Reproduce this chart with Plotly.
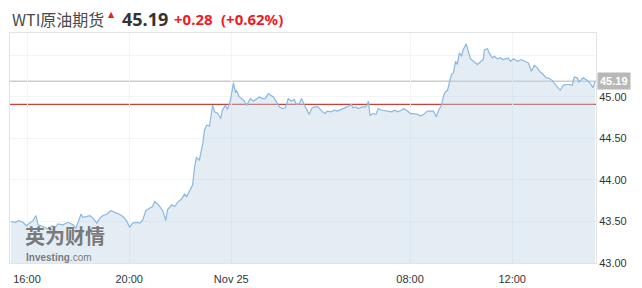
import plotly.graph_objects as go
import pandas as pd

# minutes after 2020-11-24 16:00 (real clock time; 06:00-07:00 session break skipped on axis)
minutes = [-38, -28, -19, -9, -2, 7, 14, 21, 26, 38, 49, 59, 66, 73, 84, 96, 108, 115, 120, 127,
           131, 141, 148, 155, 164, 171, 178, 188, 197, 206, 216, 225, 234, 241, 248, 258, 265, 272, 279, 288,
           295, 300, 309, 319, 326, 330, 340, 347, 354, 363, 370, 375, 382, 389, 394, 398, 405, 413, 417, 422,
           429, 436, 441, 448, 455, 459, 466, 471, 478, 485, 490, 492, 499, 509, 516, 525, 532, 539, 546, 553,
           560, 567, 574, 579, 586, 593, 600, 607, 614, 621, 628, 633, 640, 645, 652, 659, 663, 670, 677, 684,
           694, 701, 705, 715, 722, 729, 738, 745, 752, 762, 766, 773, 778, 788, 795, 799, 802, 806, 813, 820,
           825, 834,
           907, 917, 924, 931, 940, 945, 954, 961, 968, 978, 985, 992, 1001, 1008, 1015, 1022, 1027, 1034, 1039, 1043,
           1048, 1053, 1057, 1062, 1067, 1071, 1076, 1081, 1085, 1092, 1097, 1102, 1109, 1118, 1125, 1132, 1135, 1142, 1146, 1153,
           1158, 1165, 1172, 1179, 1191, 1196, 1203, 1212, 1221, 1231, 1238, 1245, 1252, 1259, 1266, 1273, 1280, 1285, 1294, 1301,
           1306, 1313, 1320, 1327, 1334, 1341, 1346, 1353, 1357, 1367, 1376, 1383, 1390, 1395]

prices = [43.50, 43.49, 43.51, 43.49, 43.45, 43.49, 43.51, 43.57, 43.46, 43.44, 43.41, 43.45, 43.43, 43.47, 43.46, 43.49, 43.46, 43.42, 43.50, 43.59,
          43.55, 43.56, 43.57, 43.54, 43.48, 43.54, 43.57, 43.59, 43.63, 43.61, 43.59, 43.56, 43.51, 43.43, 43.48, 43.49, 43.48, 43.52, 43.63, 43.66,
          43.68, 43.74, 43.70, 43.63, 43.51, 43.64, 43.70, 43.68, 43.73, 43.77, 43.83, 43.80, 43.88, 43.94, 44.16, 44.27, 44.24, 44.44, 44.60, 44.66,
          44.65, 44.90, 44.82, 44.80, 44.74, 44.84, 44.90, 44.85, 44.96, 45.17, 45.05, 45.08, 45.00, 44.96, 44.90, 44.98, 44.95, 44.98, 45.00, 44.98,
          44.98, 45.04, 45.02, 45.00, 44.94, 44.88, 44.86, 44.87, 44.98, 44.95, 44.97, 44.91, 44.92, 44.98, 44.90, 44.82, 44.79, 44.87, 44.88, 44.88,
          44.82, 44.80, 44.83, 44.82, 44.84, 44.83, 44.85, 44.86, 44.88, 44.91, 44.87, 44.88, 44.86, 44.88, 44.88, 44.90, 44.95, 44.78, 44.80, 44.79,
          44.86, 44.84,
          44.83, 44.82, 44.84, 44.82, 44.84, 44.86, 44.83, 44.80, 44.80, 44.79, 44.77, 44.79, 44.83, 44.83, 44.83, 44.76, 44.84, 44.90, 45.02, 45.06,
          45.08, 45.18, 45.27, 45.29, 45.43, 45.39, 45.53, 45.49, 45.57, 45.64, 45.55, 45.46, 45.43, 45.39, 45.42, 45.45, 45.57, 45.58, 45.53, 45.47,
          45.49, 45.46, 45.47, 45.45, 45.47, 45.43, 45.46, 45.43, 45.45, 45.43, 45.41, 45.31, 45.38, 45.35, 45.30, 45.27, 45.23, 45.23, 45.20, 45.15,
          45.12, 45.08, 45.14, 45.15, 45.15, 45.14, 45.24, 45.23, 45.18, 45.23, 45.20, 45.17, 45.11, 45.19]

last_price = 45.19
prev_close = 44.91
tick_vals = ["2020-11-24 16:00", "2020-11-24 20:00", "2020-11-25 00:00", "2020-11-25 08:00", "2020-11-25 12:00"]
tick_text = ["16:00", "20:00", "Nov 25", "08:00", "12:00"]
y_ticks = [43.0, 43.5, 44.0, 44.5, 45.0, 45.5]
y_tick_text = ["43.00", "43.50", "44.00", "44.50", "45.00", ""]

base = pd.Timestamp("2020-11-24 16:00")
times = [base + pd.Timedelta(minutes=m) for m in minutes]

fig = go.Figure()
fig.add_trace(go.Scatter(
    x=times, y=prices, mode="lines",
    line=dict(color="#8ab8e2", width=1.2),
    fill="tozeroy", fillcolor="rgba(190,210,228,0.42)",
    hoverinfo="skip", showlegend=False,
))

fig.add_shape(type="line", xref="paper", x0=0, x1=1, yref="y", y0=last_price, y1=last_price,
              line=dict(color="#b4b4b4", width=1), layer="below")
fig.add_shape(type="line", xref="paper", x0=0, x1=1, yref="y", y0=prev_close, y1=prev_close,
              line=dict(color="#c8403a", width=1.2), layer="below")

# last price label on right axis
fig.add_annotation(xref="paper", x=1.0, xanchor="left", yref="y", y=last_price, yanchor="middle",
                   text="<b>45.19</b>", showarrow=False, bgcolor="#b8b8b8",
                   font=dict(family="Arial, Liberation Sans", size=11, color="white"),
                   borderpad=2, xshift=1)

# header pieces
hdr = [
    ("WTI原油期货", 0.0, 1.061, 16, "#4a4a4a", "Noto Sans CJK SC"),
    ("▲", 0.164, 1.082, 8, "#e8202a", "DejaVu Sans"),
    ("<b>45.19</b>", 0.188, 1.061, 18, "#333333", "Noto Sans"),
    ("<b>+0.28</b>", 0.277, 1.061, 15, "#ee1c25", "Noto Sans"),
    ("<b>(+0.62%)</b>", 0.357, 1.061, 15, "#ee1c25", "Noto Sans"),
]
for txt, px, py, fs, col, fam in hdr:
    fig.add_annotation(xref="paper", yref="paper", x=px, y=py, xanchor="left", yanchor="middle",
                       showarrow=False, text=txt, font=dict(family=fam, size=fs, color=col))

# watermark
fig.add_annotation(xref="paper", yref="paper", x=0.024, y=0.052, xanchor="left", yanchor="bottom",
                   showarrow=False, text="<b>英为财情</b>", borderpad=0,
                   font=dict(family="Noto Sans CJK SC", size=20, color="rgba(100,100,100,0.85)"))
fig.add_annotation(xref="paper", yref="paper", x=0.026, y=0.052, xanchor="left", yanchor="top",
                   showarrow=False, text="<b>Investing</b>.com", borderpad=0,
                   font=dict(family="Arial, Liberation Sans", size=10, color="rgba(100,100,100,0.85)"))

fig.update_layout(
    width=642, height=288,
    margin=dict(l=10, r=46, t=33, b=25),
    paper_bgcolor="white", plot_bgcolor="white",
    xaxis=dict(
        range=["2020-11-24 15:20", "2020-11-25 15:17"],
        rangebreaks=[dict(values=["2020-11-25 06:00"], dvalue=3600000)],
        tickvals=tick_vals, ticktext=tick_text,
        showgrid=True, gridcolor="#f2f4f6", gridwidth=1,
        showline=True, linecolor="#e3e3e3", mirror=True,
        ticks="outside", ticklen=6, tickcolor="rgba(0,0,0,0)",
        tickfont=dict(family="Arial, Liberation Sans", size=11, color="#333333"),
        zeroline=False, fixedrange=True, automargin=False,
    ),
    yaxis=dict(
        range=[43.0, 45.77], side="right",
        tickvals=y_ticks, ticktext=y_tick_text,
        showgrid=True, gridcolor="#f2f4f6", gridwidth=1,
        showline=True, linecolor="#e3e3e3", mirror=True,
        ticks="", tickfont=dict(family="Arial, Liberation Sans", size=11, color="#333333"),
        zeroline=False, fixedrange=True, automargin=False,
    ),
)

fig.write_html("out.html")
